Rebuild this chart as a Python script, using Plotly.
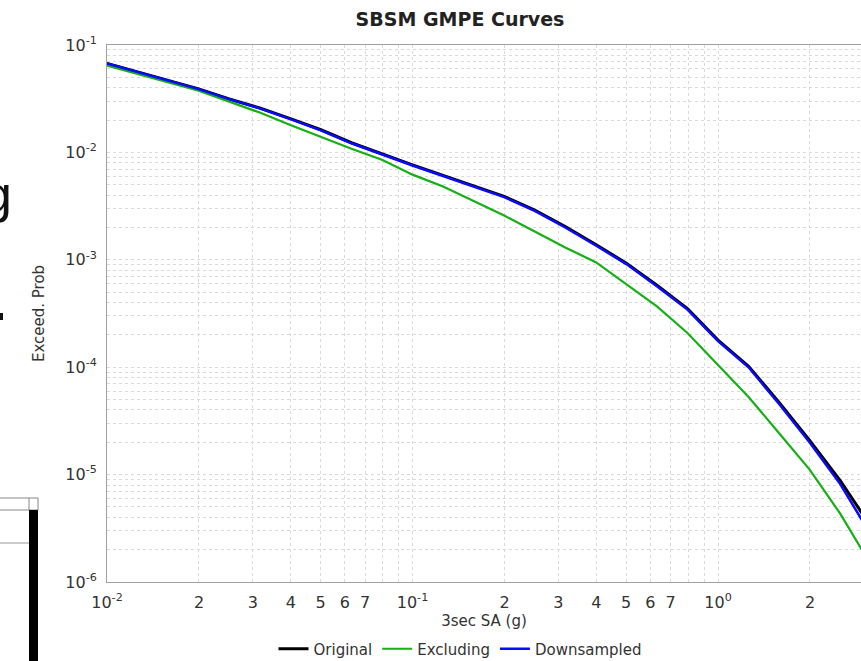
import plotly.graph_objects as go

# Intensity measure levels (g)
sa = [0.01, 0.01259, 0.01585, 0.01995, 0.02512, 0.03162, 0.03981, 0.05012, 0.0631, 0.07943,
      0.1, 0.1259, 0.1585, 0.1995, 0.2512, 0.3162, 0.3981, 0.5012, 0.631, 0.7943,
      1.0, 1.259, 1.585, 1.995, 2.512, 3.162]

original = [0.0674, 0.0560, 0.0467, 0.0389, 0.0314, 0.0259, 0.0206, 0.01625, 0.0123, 0.00966,
            0.00765, 0.00611, 0.00488, 0.00390, 0.00290, 0.00204, 0.00139, 0.000930, 0.000580, 0.000352,
            0.000179, 0.000102, 4.69e-5, 2.08e-5, 8.81e-6, 3.29e-6]

excluding = [0.0642, 0.0537, 0.0450, 0.0376, 0.0297, 0.0235, 0.01796, 0.0139, 0.0108, 0.00855,
             0.00621, 0.00482, 0.00353, 0.00258, 0.001835, 0.00130, 0.000950, 0.000595, 0.000368, 0.000208,
             0.000106, 5.28e-5, 2.43e-5, 1.113e-5, 4.33e-6, 1.45e-6]

downsampled = [0.0673, 0.0559, 0.0466, 0.0388, 0.0313, 0.0257, 0.0204, 0.01606, 0.01216, 0.00954,
               0.00755, 0.00603, 0.00481, 0.00384, 0.00285, 0.00200, 0.00136, 0.000912, 0.000567, 0.000344,
               0.000175, 9.98e-5, 4.54e-5, 1.99e-5, 8.17e-6, 2.76e-6]

x_tickvals = [0.01, 0.02, 0.03, 0.04, 0.05, 0.06, 0.07, 0.08, 0.09,
              0.1, 0.2, 0.3, 0.4, 0.5, 0.6, 0.7, 0.8, 0.9,
              1, 2, 3]
x_ticktext = ["10<sup>-2</sup>", "2", "3", "4", "5", "6", "7", "", "",
              "10<sup>-1</sup>", "2", "3", "4", "5", "6", "7", "", "",
              "10<sup>0</sup>", "2", "3"]

y_decades = [1e-6, 1e-5, 1e-4, 1e-3, 1e-2, 1e-1]
y_decade_text = ["10<sup>-6</sup>", "10<sup>-5</sup>", "10<sup>-4</sup>",
                 "10<sup>-3</sup>", "10<sup>-2</sup>", "10<sup>-1</sup>"]
y_minor_mult = [2, 3, 4, 5, 6, 7, 8, 9]

y_tickvals = []
y_ticktext = []
for d, t in zip(y_decades, y_decade_text):
    y_tickvals.append(d)
    y_ticktext.append(t)
    if d < 0.1:
        for m in y_minor_mult:
            y_tickvals.append(d * m)
            y_ticktext.append("")

W, H = 861, 661
L, R, T, B = 107, 0, 45, 79
pw = W - L - R
ph = H - T - B


def px(x):
    return (x - L) / pw


def py(y):
    return (H - B - y) / ph


fig = go.Figure()
fig.add_trace(go.Scatter(x=sa, y=original, mode="lines", name="Original",
                         line=dict(color="#000000", width=3)))
fig.add_trace(go.Scatter(x=sa, y=excluding, mode="lines", name="Excluding",
                         line=dict(color="#16b016", width=2.2)))
fig.add_trace(go.Scatter(x=sa, y=downsampled, mode="lines", name="Downsampled",
                         line=dict(color="#0a0aff", width=2.5)))

grid = dict(showgrid=True, gridcolor="#dadada", gridwidth=1, griddash="3px,3px")

fig.update_xaxes(type="log", range=[-2, 0.468], tickmode="array",
                 tickvals=x_tickvals, ticktext=x_ticktext, automargin=False,
                 showline=True, linecolor="#a0a0a0", linewidth=1, mirror=True,
                 ticks="outside", ticklen=6, tickcolor="rgba(0,0,0,0)", zeroline=False,
                 tickfont=dict(family="DejaVu Sans", size=16, color="#333333"),
                 title=dict(text="3sec SA (g)", standoff=4,
                            font=dict(family="DejaVu Sans", size=15, color="#333333")),
                 **grid)
fig.update_yaxes(type="log", range=[-6, -1], tickmode="array",
                 tickvals=y_tickvals, ticktext=y_ticktext, automargin=False,
                 showline=True, linecolor="#a0a0a0", linewidth=1, mirror=False,
                 ticks="outside", ticklen=6, tickcolor="rgba(0,0,0,0)", zeroline=False,
                 tickfont=dict(family="DejaVu Sans", size=16, color="#333333"),
                 title=dict(text="Exceed. Prob", standoff=17,
                            font=dict(family="DejaVu Sans", size=15, color="#333333")),
                 **grid)

# leftover pieces of the neighbouring window at the left edge
shapes = [
    dict(type="rect", xref="paper", yref="paper", x0=px(-2), x1=px(38), y0=py(510), y1=py(498),
         line=dict(color="#888888", width=1), fillcolor="#ffffff", layer="above"),
    dict(type="rect", xref="paper", yref="paper", x0=px(29), x1=px(38), y0=py(661), y1=py(510),
         line=dict(color="#000000", width=0), fillcolor="#000000", layer="above"),
    dict(type="line", xref="paper", yref="paper", x0=px(29), x1=px(29), y0=py(510), y1=py(498),
         line=dict(color="#888888", width=1), layer="above"),
    dict(type="line", xref="paper", yref="paper", x0=px(-2), x1=px(29), y0=py(543), y1=py(543),
         line=dict(color="#999999", width=1), layer="above"),
    dict(type="rect", xref="paper", yref="paper", x0=px(-1), x1=px(3), y0=py(320), y1=py(313),
         line=dict(color="#111111", width=0), fillcolor="#111111", layer="above"),
]

annotations = [
    dict(text="g", xref="paper", yref="paper", x=px(14), y=py(194), xanchor="right",
         yanchor="middle", showarrow=False,
         font=dict(family="Liberation Sans", size=52, color="#111111")),
]

fig.update_layout(
    width=W, height=H,
    margin=dict(l=L, r=R, t=T, b=B, pad=0, autoexpand=False),
    paper_bgcolor="#ffffff", plot_bgcolor="#ffffff",
    title=dict(text="<b>SBSM GMPE Curves</b>", xref="container", yref="container",
               x=460 / W, y=1 - 19 / H, xanchor="center", yanchor="middle",
               font=dict(family="DejaVu Sans", size=19, color="#222222")),
    legend=dict(orientation="h", xref="paper", yref="paper",
                x=px(460), y=py(649), xanchor="center", yanchor="middle",
                font=dict(family="DejaVu Sans", size=15, color="#333333"),
                itemwidth=30, tracegroupgap=0, bgcolor="rgba(0,0,0,0)"),
    showlegend=True,
    shapes=shapes,
    annotations=annotations,
)

fig.write_html("out.html")
